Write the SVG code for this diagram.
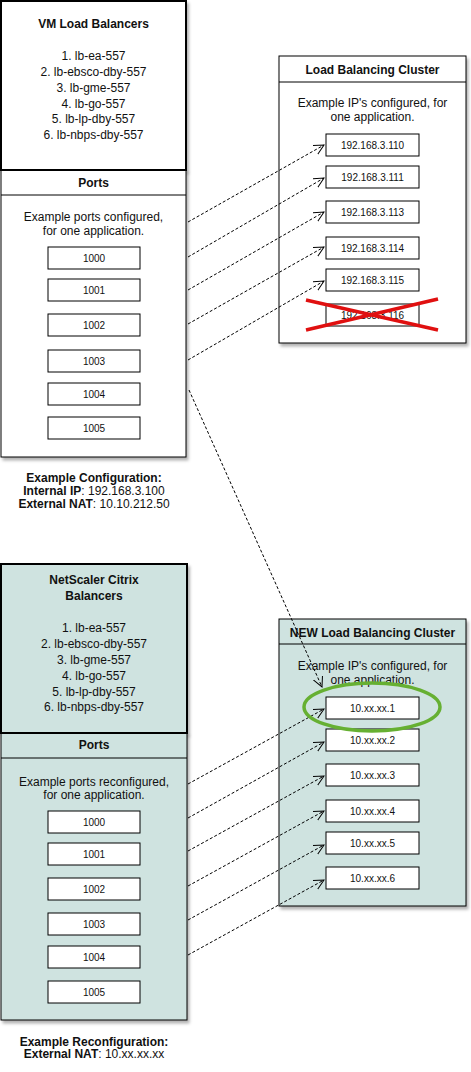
<svg xmlns="http://www.w3.org/2000/svg" width="471" height="1072" viewBox="0 0 471 1072">
<style>
text{font-family:"Liberation Sans",Arial,sans-serif;fill:#111;text-anchor:middle}
.t{font-size:12px;font-weight:bold}
.b{font-size:12px}
.s{font-size:10px}
.box{fill:#fff;stroke:#000;stroke-width:1}
.thick{stroke:#000;stroke-width:2}
.thin{stroke:#000;stroke-width:1}
.conn{fill:none;stroke:#000;stroke-width:1;stroke-dasharray:3 2;marker-end:url(#arr)}
.teal{fill:#cfe3e0}
.white{fill:#fff}
</style>
<defs>
<filter id="sh" x="-10%" y="-10%" width="130%" height="130%">
<feDropShadow dx="2" dy="3" stdDeviation="1.5" flood-color="#000" flood-opacity="0.3"/>
</filter>
<marker id="arr" markerWidth="12" markerHeight="12" refX="10" refY="5" orient="auto" markerUnits="userSpaceOnUse" viewBox="0 0 12 10">
<path d="M0,0 L10,5 L0,10" fill="none" stroke="#000" stroke-width="1"/>
</marker>
</defs>

<g id="vm-load-balancers">
<rect x="1" y="1" width="185" height="169" class="white thick" filter="url(#sh)"/>
<text class="t" x="93.5" y="28">VM Load Balancers</text>
<text class="b" x="93.5" y="60">1. lb-ea-557</text>
<text class="b" x="93.5" y="76">2. lb-ebsco-dby-557</text>
<text class="b" x="93.5" y="92">3. lb-gme-557</text>
<text class="b" x="93.5" y="108">4. lb-go-557</text>
<text class="b" x="93.5" y="123">5. lb-lp-dby-557</text>
<text class="b" x="93.5" y="139">6. lb-nbps-dby-557</text>
</g>

<g id="ports-1">
<rect x="1" y="170" width="185" height="287" class="white thin" filter="url(#sh)"/>
<line x1="1" y1="170" x2="186" y2="170" class="thick"/>
<line x1="1" y1="195" x2="186" y2="195" class="thin"/>
<text class="t" x="93.5" y="187">Ports</text>
<text class="b" x="93.5" y="221">Example ports configured,</text>
<text class="b" x="93.5" y="235">for one application.</text>
<rect class="box" x="48" y="247" width="92" height="22"/><text class="s" x="94" y="261.5">1000</text>
<rect class="box" x="48" y="279" width="92" height="22"/><text class="s" x="94" y="293.5">1001</text>
<rect class="box" x="48" y="314" width="92" height="22"/><text class="s" x="94" y="328.5">1002</text>
<rect class="box" x="48" y="350" width="92" height="22"/><text class="s" x="94" y="364.5">1003</text>
<rect class="box" x="48" y="383" width="92" height="22"/><text class="s" x="94" y="397.5">1004</text>
<rect class="box" x="48" y="417" width="92" height="22"/><text class="s" x="94" y="431.5">1005</text>
</g>

<g id="example-configuration">
<text class="b" x="94" y="482"><tspan font-weight="bold">Example Configuration:</tspan></text>
<text class="b" x="94" y="495"><tspan font-weight="bold">Internal IP</tspan>: 192.168.3.100</text>
<text class="b" x="94" y="508"><tspan font-weight="bold">External NAT</tspan>: 10.10.212.50</text>
</g>

<g id="load-balancing-cluster">
<rect x="279" y="56" width="187" height="287" class="white thin" filter="url(#sh)"/>
<line x1="279" y1="82" x2="466" y2="82" class="thin"/>
<text class="t" x="372.5" y="74">Load Balancing Cluster</text>
<text class="b" x="372.5" y="107">Example IP's configured, for</text>
<text class="b" x="372.5" y="121">one application.</text>
<rect class="box" x="326" y="134" width="93" height="22"/><text class="s" x="372.5" y="148.5">192.168.3.110</text>
<rect class="box" x="326" y="166" width="93" height="22"/><text class="s" x="372.5" y="180.5">192.168.3.111</text>
<rect class="box" x="326" y="201" width="93" height="22"/><text class="s" x="372.5" y="215.5">192.168.3.113</text>
<rect class="box" x="326" y="237" width="93" height="22"/><text class="s" x="372.5" y="251.5">192.168.3.114</text>
<rect class="box" x="326" y="269" width="93" height="22"/><text class="s" x="372.5" y="283.5">192.168.3.115</text>
<rect class="box" x="326" y="304" width="93" height="22"/><text class="s" x="372.5" y="318.5">192.168.3.116</text>
</g>

<g id="red-cross">
<line x1="306" y1="300" x2="438" y2="330" stroke="#e01010" stroke-width="3.5"/>
<line x1="306" y1="330" x2="438" y2="299" stroke="#e01010" stroke-width="3.5"/>
</g>

<g id="netscaler-balancers">
<rect x="1" y="564" width="186" height="169" class="teal thick" filter="url(#sh)"/>
<text class="t" x="94" y="584">NetScaler Citrix</text>
<text class="t" x="94" y="600">Balancers</text>
<text class="b" x="94" y="632">1. lb-ea-557</text>
<text class="b" x="94" y="648">2. lb-ebsco-dby-557</text>
<text class="b" x="94" y="664">3. lb-gme-557</text>
<text class="b" x="94" y="680">4. lb-go-557</text>
<text class="b" x="94" y="696">5. lb-lp-dby-557</text>
<text class="b" x="94" y="711">6. lb-nbps-dby-557</text>
</g>

<g id="ports-2">
<rect x="1" y="733" width="186" height="287" class="teal thin" filter="url(#sh)"/>
<line x1="1" y1="733" x2="187" y2="733" class="thick"/>
<line x1="1" y1="758" x2="187" y2="758" class="thin"/>
<text class="t" x="94" y="749">Ports</text>
<text class="b" x="94" y="786">Example ports reconfigured,</text>
<text class="b" x="94" y="799">for one application.</text>
<rect class="box" x="48" y="811" width="92" height="22"/><text class="s" x="94" y="825.5">1000</text>
<rect class="box" x="48" y="843" width="92" height="22"/><text class="s" x="94" y="857.5">1001</text>
<rect class="box" x="48" y="878" width="92" height="22"/><text class="s" x="94" y="892.5">1002</text>
<rect class="box" x="48" y="913" width="92" height="22"/><text class="s" x="94" y="927.5">1003</text>
<rect class="box" x="48" y="946" width="92" height="22"/><text class="s" x="94" y="960.5">1004</text>
<rect class="box" x="48" y="981" width="92" height="22"/><text class="s" x="94" y="995.5">1005</text>
</g>

<g id="example-reconfiguration">
<text class="b" x="94" y="1046"><tspan font-weight="bold">Example Reconfiguration:</tspan></text>
<text class="b" x="94" y="1058"><tspan font-weight="bold">External NAT</tspan>: 10.xx.xx.xx</text>
</g>

<g id="new-load-balancing-cluster">
<rect x="279" y="619" width="187" height="287" class="teal thin" filter="url(#sh)"/>
<line x1="279" y1="644" x2="466" y2="644" class="thin"/>
<text class="t" x="372.5" y="637">NEW Load Balancing Cluster</text>
<text class="b" x="372.5" y="670">Example IP's configured, for</text>
<text class="b" x="372.5" y="684">one application.</text>
<rect class="box" x="326" y="697" width="93" height="22"/><text class="s" x="372.5" y="711.5">10.xx.xx.1</text>
<rect class="box" x="326" y="729" width="93" height="22"/><text class="s" x="372.5" y="743.5">10.xx.xx.2</text>
<rect class="box" x="326" y="764" width="93" height="22"/><text class="s" x="372.5" y="778.5">10.xx.xx.3</text>
<rect class="box" x="326" y="800" width="93" height="22"/><text class="s" x="372.5" y="814.5">10.xx.xx.4</text>
<rect class="box" x="326" y="832" width="93" height="22"/><text class="s" x="372.5" y="846.5">10.xx.xx.5</text>
<rect class="box" x="326" y="867" width="93" height="22"/><text class="s" x="372.5" y="881.5">10.xx.xx.6</text>
</g>

<g id="connectors">
<path class="conn" d="M188,222 L324,145"/>
<path class="conn" d="M188,257 L324,178"/>
<path class="conn" d="M188,290 L324,212"/>
<path class="conn" d="M188,324 L324,247"/>
<path class="conn" d="M188,360 L324,281"/>
<path class="conn" d="M189,390 L322,687"/>
<path class="conn" d="M188,784 L324,709"/>
<path class="conn" d="M188,818 L324,742"/>
<path class="conn" d="M188,851 L324,776"/>
<path class="conn" d="M188,886 L324,811"/>
<path class="conn" d="M188,920 L324,845"/>
<path class="conn" d="M188,955 L324,880"/>
</g>

<g id="green-highlight">
<ellipse cx="372" cy="707" rx="68" ry="24" fill="none" stroke="#66b032" stroke-width="3.5"/>
</g>
</svg>
